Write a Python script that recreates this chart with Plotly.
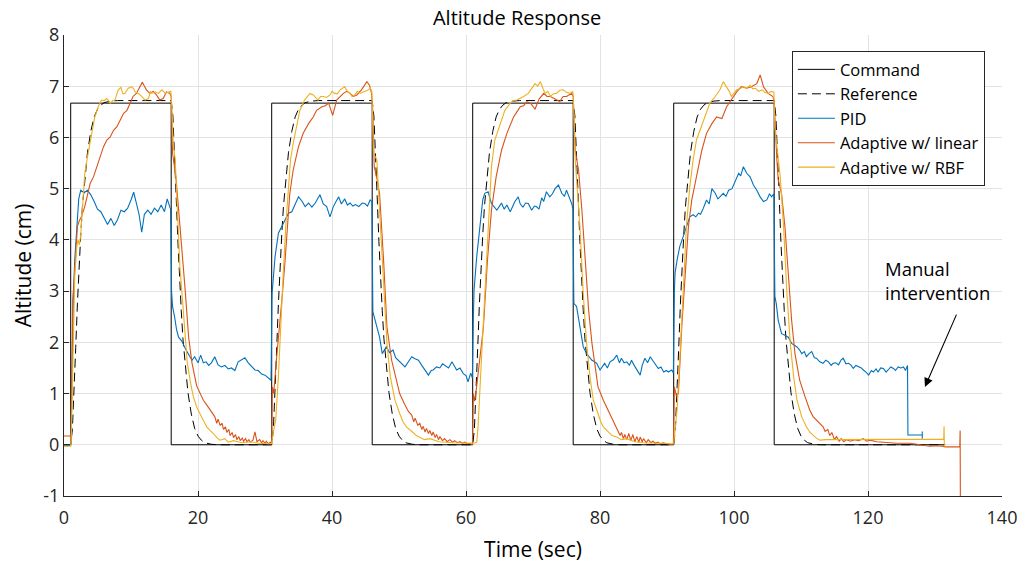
import plotly.graph_objects as go

# ---------------- data ----------------
cmd_t = [0, 1, 1, 16, 16, 31, 31, 46, 46, 61, 61, 76, 76, 91, 91, 106, 106, 131.5]
cmd_y = [0, 0, 6.67, 6.67, 0, 0, 6.67, 6.67, 0, 0, 6.67, 6.67, 0, 0, 6.67, 6.67, 0, 0]

# reference model: step-response shape read after each command edge
ref_dt = [0, 0.25, 0.5, 0.75, 1.0, 1.25, 1.5, 1.75, 2.0, 2.5, 3.0, 3.5, 4.0, 4.5, 5.0, 6.0, 7.0]
ref_rise = [0, 0.3, 1.0, 1.9, 2.75, 3.5, 4.1, 4.65, 5.05, 5.7, 6.12, 6.4, 6.55, 6.63, 6.68, 6.71, 6.72]
ref_fall = [6.72, 6.42, 5.72, 4.82, 3.97, 3.22, 2.62, 2.07, 1.67, 1.02, 0.6, 0.32, 0.17, 0.09, 0.04, 0.01, 0.0]
ref_on = [1, 31, 61, 91]
ref_off = [16, 46, 76, 106]
ref_end = 131.5

pid_t = [0, 0.5, 1.0, 1.2, 1.4, 1.6, 1.9, 2.2, 2.5, 3.0, 3.5, 4.0, 4.5, 5.0, 5.5, 6.0, 6.5, 7.0, 7.5, 8.0,
         8.5, 9.0, 9.5, 10.0, 10.4, 10.8, 11.2, 11.6, 12.0, 12.5, 13.0, 13.5, 14.0, 14.5, 15.0, 15.4, 15.9,
         16.05, 16.2, 16.5, 16.8, 17.1, 17.6, 18.1, 18.6, 19.1, 19.5, 20.0, 20.4, 20.8, 21.2, 21.6, 22.0,
         22.5, 23.0, 23.5, 24.0, 24.5, 25.0, 25.5, 26.0, 26.5, 27.0, 27.5, 28.0, 28.5, 29.0, 29.5, 30.0,
         30.5, 30.9, 31.05, 31.5, 32.0, 32.5, 33.0, 33.5, 34.0, 34.5, 35.0, 35.5, 36.0, 36.5, 37.0, 37.5,
         38.2, 38.7, 39.2, 39.7, 40.2, 40.6, 41.0, 41.4, 41.9, 42.3, 42.7, 43.1, 43.5, 44.0, 44.5, 44.9,
         45.3, 45.7, 45.95, 46.1, 46.3, 46.6, 47.1, 47.5, 48.1, 48.6, 49.1, 49.5, 49.9, 50.4, 50.9, 51.4,
         51.9, 52.4, 52.9, 53.4, 53.9, 54.4, 54.8, 55.1, 55.6, 56.1, 56.5, 56.9, 57.4, 57.9, 58.3, 58.6,
         59.1, 59.6, 60.0, 60.3, 60.7, 60.95, 61.1, 61.2, 61.6, 62.1, 62.5, 62.8, 63.3, 63.8, 64.2, 64.6,
         65.0, 65.3, 65.7, 66.1, 66.6, 67.0, 67.3, 67.8, 68.1, 68.5, 68.9, 69.3, 69.8, 70.2, 70.5, 70.9,
         71.3, 71.6, 72.0, 72.5, 72.9, 73.3, 73.8, 74.3, 74.7, 75.0, 75.4, 75.8, 75.95, 76.1, 76.5, 77.0,
         77.5, 78.0, 78.4, 78.8, 79.2, 79.5, 80.0, 80.4, 80.7, 81.1, 81.5, 82.0, 82.5, 82.9, 83.2, 83.6,
         84.0, 84.4, 84.7, 85.1, 85.5, 86.0, 86.3, 86.7, 87.1, 87.5, 88.0, 88.4, 88.7, 89.1, 89.5, 89.9,
         90.2, 90.7, 90.95, 91.1, 91.2, 91.5, 91.9, 92.4, 92.9, 93.4, 93.9, 94.3, 94.7, 95.0, 95.4, 95.9,
         96.3, 96.7, 97.2, 97.6, 97.9, 98.4, 98.8, 99.2, 99.7, 100.2, 100.7, 101.0, 101.4, 101.9, 102.4,
         102.9, 103.4, 103.9, 104.4, 104.9, 105.3, 105.6, 105.95, 106.1, 106.3, 106.6, 107.1, 107.6, 108.1,
         108.6, 109.0, 109.4, 109.8, 110.1, 110.5, 110.8, 111.2, 111.6, 112.0, 112.3, 112.8, 113.3, 113.7,
         114.1, 114.5, 114.8, 115.2, 115.6, 116.0, 116.3, 116.7, 117.1, 117.5, 117.8, 118.2, 118.6, 119.0,
         119.3, 119.7, 120.1, 120.5, 120.8, 121.2, 121.5, 121.9, 122.3, 122.7, 123.0, 123.4, 123.8, 124.1,
         124.5, 124.9, 125.3, 125.6, 125.9, 125.96, 128.1, 128.1, 128.1]
pid_y = [-0.02, -0.02, 0.0, 1.5, 2.9, 3.6, 4.3, 4.8, 4.97, 4.92, 4.97, 4.88, 4.75, 4.6, 4.55, 4.42, 4.3, 4.42, 4.28, 4.4,
         4.58, 4.55, 4.62, 4.78, 4.93, 4.72, 4.5, 4.15, 4.5, 4.58, 4.5, 4.62, 4.55, 4.68, 4.55, 4.8, 4.6,
         3.0, 2.7, 2.5, 2.25, 2.1, 2.02, 1.88, 1.76, 1.65, 1.72, 1.6, 1.75, 1.6, 1.62, 1.55, 1.6,
         1.72, 1.56, 1.52, 1.55, 1.48, 1.5, 1.45, 1.62, 1.66, 1.7, 1.6, 1.52, 1.46, 1.45, 1.38, 1.36,
         1.3, 1.26, 2.95, 3.67, 4.13, 4.26, 4.38, 4.52, 4.55, 4.71, 4.84, 4.76, 4.65, 4.72, 4.64, 4.72,
         4.88, 4.7, 4.65, 4.45, 4.65, 4.75, 4.84, 4.7, 4.8, 4.68, 4.72, 4.66, 4.69, 4.65, 4.72, 4.71,
         4.66, 4.78, 4.75, 2.6, 2.5, 2.3, 2.1, 1.78, 1.91, 1.8, 1.85, 1.7, 1.65, 1.58, 1.52, 1.62,
         1.72, 1.68, 1.65, 1.55, 1.45, 1.36, 1.45, 1.46, 1.52, 1.5, 1.58, 1.55, 1.5, 1.62, 1.52, 1.46,
         1.5, 1.39, 1.35, 1.23, 1.4, 1.3, 2.5, 3.02, 3.67, 4.26, 4.78, 4.91, 4.94, 4.71, 4.65, 4.58,
         4.66, 4.72, 4.6, 4.68, 4.55, 4.65, 4.75, 4.84, 4.7, 4.64, 4.72, 4.71, 4.58, 4.66, 4.65, 4.6,
         4.82, 4.75, 4.94, 4.84, 4.9, 5.0, 5.07, 4.91, 4.85, 4.97, 4.85, 4.7, 4.6, 2.76, 2.7, 2.3,
         1.91, 1.78, 1.72, 1.65, 1.62, 1.59, 1.46, 1.55, 1.59, 1.5, 1.62, 1.66, 1.75, 1.6, 1.69, 1.6,
         1.62, 1.55, 1.65, 1.55, 1.46, 1.36, 1.55, 1.69, 1.6, 1.72, 1.62, 1.55, 1.49, 1.52, 1.42, 1.45,
         1.42, 1.46, 1.4, 3.0, 3.35, 3.6, 3.87, 4.06, 4.26, 4.45, 4.49, 4.45, 4.52, 4.5, 4.61, 4.78,
         4.7, 5.0, 4.91, 4.8, 4.84, 4.91, 4.85, 4.97, 5.0, 5.17, 5.3, 5.25, 5.43, 5.3, 5.23,
         5.07, 4.97, 4.84, 4.75, 4.78, 4.9, 4.84, 4.9, 2.9, 2.76, 2.43, 2.17, 2.14, 2.1,
         1.98, 1.95, 1.91, 1.85, 1.78, 1.82, 1.72, 1.78, 1.82, 1.7, 1.69, 1.62, 1.59, 1.65,
         1.62, 1.55, 1.59, 1.6, 1.56, 1.66, 1.69, 1.58, 1.59, 1.55, 1.49, 1.55, 1.52, 1.5,
         1.46, 1.42, 1.36, 1.45, 1.42, 1.48, 1.42, 1.5, 1.49, 1.42, 1.46, 1.52, 1.49, 1.45,
         1.52, 1.5, 1.52, 1.45, 1.55, 0.19, 0.19, 0.26, 0.12]

lin_t = [0, 0.5, 0.95, 1.05, 1.2, 1.3, 1.64, 2.0, 2.3, 2.6, 3.1, 3.6, 3.9, 4.4, 4.9, 5.4, 5.9, 6.4, 6.9, 7.4,
         7.9, 8.4, 8.9, 9.4, 9.9, 10.3, 10.8, 11.3, 11.7, 12.0, 12.3, 12.8, 13.3, 13.8, 14.3, 14.8, 15.3,
         15.8, 16.0, 16.2, 16.5, 16.7, 17.1, 17.6, 18.1, 18.6, 19.1, 19.8, 20.3, 20.8, 21.3, 21.8, 22.2,
         22.5, 22.8, 23.0, 23.3, 23.6, 23.8, 24.1, 24.3, 24.6, 24.8, 25.1, 25.3, 25.6, 25.8, 26.1, 26.3,
         26.6, 26.8, 27.1, 27.3, 27.6, 27.8, 28.2, 28.5, 28.8, 29.2, 29.5, 29.7, 30.0, 30.2, 30.5, 30.8,
         31.0, 31.1, 31.3, 31.7, 32.2, 32.6, 33.0, 33.3, 33.7, 34.2, 35.0, 35.7, 36.5,
         37.2, 37.7, 38.5, 39.0, 39.5, 40.1, 40.7, 41.2, 41.7, 42.2, 42.7, 43.2, 43.7, 44.4, 45.2, 45.6,
         45.9, 46.1, 46.3, 46.7, 47.1, 47.7, 48.2, 48.9, 49.5, 50.1, 50.8, 51.4, 51.9,
         52.2, 52.4, 52.8, 53.1, 53.4, 53.6, 53.9, 54.1, 54.4, 54.6, 54.9, 55.1, 55.4, 55.6, 55.9, 56.1,
         56.5, 56.8, 57.2, 57.6, 58.0, 58.3, 58.7, 59.1, 59.5, 59.8, 60.2, 60.6, 60.95,
         61.1, 61.3, 61.6, 62.1,
         62.6, 63.2, 63.8, 64.5, 65.3, 66.1, 66.6, 67.1, 67.6, 68.1, 68.6, 69.1, 69.7, 70.3, 70.9, 71.6,
         72.1, 72.6, 73.3, 74.0, 74.5, 75.0, 75.8, 76.0, 76.3, 76.8, 77.3, 77.8, 78.3, 78.8, 79.3, 79.7,
         80.5, 81.2, 81.9, 82.3, 82.7,
         83.0, 83.2, 83.5, 83.7, 84.0, 84.3, 84.6, 84.9, 85.2, 85.5, 85.8, 86.0, 86.3, 86.5, 86.9, 87.2,
         87.6, 87.9, 88.3, 88.6, 89.0, 89.4, 90.0, 90.7, 90.95,
         91.1, 91.4, 91.7, 92.2, 92.7, 93.2, 93.7, 94.4, 95.2, 95.9, 96.7, 97.4, 98.2,
         98.9, 99.6, 100.4, 101.1, 101.9, 102.6, 103.4, 103.9, 104.4, 105.1, 105.8, 106.0, 106.2, 106.4,
         106.6, 107.1, 107.6, 108.1, 108.6, 109.1, 109.8, 110.6, 111.3, 111.8, 112.3, 112.8, 113.3,
         113.6, 114.0, 114.3, 114.6, 115.0, 115.3, 115.7, 116.0, 116.4, 116.8, 117.4, 118.0, 118.6,
         119.3, 119.8, 120.3, 121.3, 122.8, 124.3, 126.3, 127.8, 129.2, 130.5,
         131.7, 133.7, 133.75, 133.8]
lin_y = [0.17, 0.17, 0.17, 0.05, 1.5, 2.82, 3.47, 4.26, 4.38, 4.45, 4.65, 4.94, 5.1, 5.23, 5.43, 5.62, 5.82, 5.95, 6.01, 6.14,
         6.21, 6.34, 6.47, 6.53, 6.67, 6.8, 6.86, 6.99, 7.08, 7.0, 6.93, 6.86, 6.9, 6.83, 6.73, 6.76, 6.89,
         6.86, 6.8, 5.69, 5.36, 5.23, 4.6, 3.87, 3.0, 2.1, 1.6, 1.15, 1.0, 0.87, 0.78, 0.68, 0.6,
         0.55, 0.42, 0.5, 0.38, 0.42, 0.3, 0.35, 0.24, 0.3, 0.18, 0.24, 0.14, 0.2, 0.1, 0.16, 0.08,
         0.13, 0.07, 0.12, 0.06, 0.1, 0.05, 0.09, 0.25, 0.06, 0.1, 0.04, 0.08, 0.03, 0.07, 0.02, 0.05,
         0.02, 1.13, 1.0, 1.65, 2.3, 2.95, 3.6, 4.26, 4.9, 5.36, 5.82, 6.08, 6.27,
         6.4, 6.53, 6.6, 6.62, 6.67, 6.43, 6.73, 6.8, 6.86, 6.9, 6.86, 6.8, 6.83, 6.93, 7.09, 7.02,
         6.86, 6.5, 5.43, 5.2, 4.9, 3.6, 2.3, 1.65, 1.3, 1.0, 0.8, 0.65, 0.58,
         0.45, 0.52, 0.38, 0.42, 0.3, 0.36, 0.25, 0.32, 0.22, 0.28, 0.18, 0.25, 0.14, 0.2, 0.1, 0.16,
         0.08, 0.12, 0.06, 0.1, 0.05, 0.08, 0.04, 0.06, 0.03, 0.05, 0.02, 0.03, 0.0,
         1.0, 0.85, 1.15, 1.7,
         2.3, 3.6, 4.58, 5.23, 5.75, 6.08, 6.25, 6.4, 6.5, 6.6, 6.62, 6.7, 6.66, 6.55, 6.75, 6.86,
         6.8, 6.8, 6.75, 6.7, 6.8, 6.8, 6.86, 6.8, 5.75, 5.36, 4.58, 3.6, 2.63, 1.98, 1.52, 1.13,
         0.87, 0.68, 0.48, 0.38, 0.28,
         0.18, 0.24, 0.12, 0.2, 0.1, 0.22, 0.08, 0.2, 0.06, 0.16, 0.05, 0.15, 0.06, 0.12, 0.04, 0.1,
         0.04, 0.07, 0.03, 0.05, 0.02, 0.04, 0.02, 0.0, 0.02,
         1.13, 0.95, 1.0, 2.3, 3.28, 4.26, 4.78, 5.23, 5.75, 6.08, 6.27, 6.4, 6.37,
         6.6, 6.73, 6.89, 6.99, 6.96, 6.99, 7.05, 7.22, 6.99, 6.86, 6.8, 6.7, 6.0, 5.56,
         5.17, 4.9, 4.26, 3.28, 2.43, 1.78, 1.26, 0.94, 0.68, 0.55, 0.48, 0.4, 0.35,
         0.26, 0.3, 0.18, 0.24, 0.1, 0.16, 0.07, 0.12, 0.06, 0.1, 0.07, 0.1, 0.08,
         0.12, 0.07, 0.09, 0.06, 0.04, 0.03, 0.03, 0.0, -0.03, -0.02,
         -0.04, -0.04, 0.28, -1.6]

rbf_t = [0, 0.5, 1.0, 1.1, 1.4, 1.6, 1.9, 2.1, 2.3, 2.5, 2.9, 3.1, 3.6, 4.1, 4.6, 5.1, 5.6, 6.0, 6.4, 6.9,
         7.3, 7.6, 8.1, 8.5, 8.8, 9.1, 9.6, 10.1, 10.4, 10.6, 11.1, 11.6, 12.1, 12.6, 12.9, 13.1, 13.6,
         14.1, 14.6, 15.1, 15.6, 15.95, 16.1, 16.3, 16.6, 16.8, 17.1, 17.3, 17.8, 18.1, 18.4, 18.9, 19.3,
         19.8, 20.2, 20.5, 20.9, 21.3, 21.8, 22.3, 22.8, 23.3, 24.0, 24.5, 25.3, 26.5, 27.8, 29.0, 30.5,
         31.0, 31.2, 31.6, 32.0, 32.3, 32.7, 33.1, 33.5, 33.8, 34.2, 34.7, 35.2, 35.9, 36.3, 36.7, 37.2,
         37.9, 38.3, 38.7, 39.2, 39.7, 40.0, 40.4, 40.8, 41.2, 41.9, 42.3, 42.7, 43.0, 43.4, 43.8, 44.2,
         44.9, 45.3, 45.7, 45.95, 46.2, 46.7, 47.1, 47.7, 48.2, 48.7, 49.4, 50.1, 50.6, 51.1, 51.6, 52.1,
         52.6, 53.1, 53.8, 54.6, 56.0, 58.0, 60.0, 61.0, 61.6, 61.8, 62.3, 62.8, 63.3, 63.8, 64.3, 65.0,
         65.8, 66.6, 67.1, 67.6, 68.1, 68.6, 69.3, 69.8, 70.3, 70.7, 71.1, 71.5, 71.8, 72.2, 72.6, 73.0,
         73.5, 74.0, 74.5, 75.0, 75.5, 75.95, 76.1, 76.3, 77.0, 77.5, 78.0, 78.5, 79.0, 79.7, 80.1, 80.5,
         81.2, 81.8, 82.5, 83.2, 84.0, 85.2, 86.5, 88.5, 90.7, 91.0, 91.2, 91.5, 91.9, 92.4, 92.9, 93.4,
         93.9, 94.4, 94.9, 95.7, 96.4, 97.2, 97.9, 98.4, 98.9, 99.3, 99.6, 100.0, 100.4, 100.9, 101.4,
         101.9, 102.4, 102.8, 103.2, 103.7, 104.2, 104.6, 105.1, 105.5, 105.95, 106.1, 106.6, 106.9, 107.4,
         107.9, 108.4, 108.9, 109.4, 110.1, 110.8, 111.3, 111.8, 112.3, 112.8, 113.8, 115.3, 117.8, 120.3,
         123.0, 125.3, 128.0, 131.3, 131.35, 131.4]
rbf_y = [-0.03, -0.03, -0.03, 0.2, 2.3, 3.28, 3.87, 4.0, 3.9, 4.1, 4.9, 5.3, 5.69, 6.08, 6.4, 6.6, 6.73, 6.72, 6.76, 6.67,
         6.72, 6.73, 6.93, 6.98, 6.85, 6.86, 6.96, 6.99, 6.95, 6.89, 6.86, 6.8, 6.73, 6.76, 6.9, 6.86, 6.89,
         6.86, 6.93, 6.86, 6.89, 6.9, 6.6, 5.88, 5.56, 5.04, 4.13, 3.47, 2.63, 2.1, 1.6, 1.2, 0.94,
         0.74, 0.62, 0.55, 0.45, 0.35, 0.28, 0.22, 0.14, 0.09, 0.12, 0.05, 0.08, 0.04, 0.06, 0.03, 0.02,
         0.02, 0.22, 0.48, 1.33, 2.3, 3.28, 4.26, 5.04, 5.56, 5.88, 6.21, 6.53, 6.73, 6.8, 6.86, 6.83,
         6.73, 6.8, 6.8, 6.78, 6.83, 6.9, 6.86, 6.85, 6.93, 6.99, 6.9, 6.86, 6.8, 6.83, 6.9, 6.86,
         6.89, 6.92, 6.96, 6.9, 5.69, 5.56, 4.58, 3.28, 1.98, 1.33, 0.87, 0.61, 0.45, 0.35, 0.3, 0.24,
         0.18, 0.15, 0.1, 0.12, 0.06, 0.04, 0.03, 0.03, 0.05, 0.35, 1.65, 2.95, 4.26, 5.43, 5.95, 6.21,
         6.53, 6.67, 6.72, 6.73, 6.76, 6.8, 6.86, 6.95, 7.05, 7.0, 7.09, 6.95, 6.86, 6.9, 6.8, 6.85,
         6.86, 6.92, 6.93, 6.88, 6.86, 6.9, 6.5, 5.56, 4.26, 2.95, 1.98, 1.33, 0.87, 0.61, 0.45, 0.35,
         0.25, 0.18, 0.15, 0.1, 0.12, 0.06, 0.04, 0.03, 0.01, 0.02, 0.28, 0.68, 1.65, 2.95, 4.26, 5.04,
         5.56, 5.95, 6.14, 6.4, 6.67, 6.8, 6.93, 7.09, 6.99, 6.9, 6.8, 6.86, 6.93, 6.95, 6.99,
         6.96, 7.02, 6.95, 6.96, 6.9, 6.93, 6.88, 6.86, 6.9, 6.89, 6.2, 5.56, 5.23, 4.26,
         2.95, 1.98, 1.33, 0.87, 0.55, 0.35, 0.25, 0.19, 0.13, 0.09, 0.1, 0.1, 0.1, 0.11,
         0.11, 0.1, 0.11, 0.11, 0.36, -0.06]

x_ticks = [0, 20, 40, 60, 80, 100, 120, 140]
y_ticks = [-1, 0, 1, 2, 3, 4, 5, 6, 7, 8]
y_tick_text = ["-1", "0", "1", "2", "3", "4", "5", "6", "7", "8"]

# build reference trace from the read-off edge shapes
ref_t, ref_y = [0.0], [0.0]
for on, off in zip(ref_on, ref_off):
    ref_t += [on + d for d in ref_dt]
    ref_y += list(ref_rise)
    ref_t += [off + d for d in ref_dt]
    ref_y += list(ref_fall)
ref_t.append(ref_end)
ref_y.append(0.0)

# ---------------- figure ----------------
FONT = "Open Sans"
AX = "#262626"
fig = go.Figure()
fig.add_trace(go.Scatter(x=cmd_t, y=cmd_y, mode="lines", name="Command",
                         line=dict(color="#000000", width=1)))
fig.add_trace(go.Scatter(x=ref_t, y=ref_y, mode="lines", name="Reference",
                         line=dict(color="#000000", width=1, dash="9px,5px")))
fig.add_trace(go.Scatter(x=pid_t, y=pid_y, mode="lines", name="PID",
                         line=dict(color="#0072BD", width=1.1)))
fig.add_trace(go.Scatter(x=lin_t, y=lin_y, mode="lines", name="Adaptive w/ linear",
                         line=dict(color="#D95319", width=1.1)))
fig.add_trace(go.Scatter(x=rbf_t, y=rbf_y, mode="lines", name="Adaptive w/ RBF",
                         line=dict(color="#EDB120", width=1.1)))

fig.add_annotation(x=128.5, y=1.13, ax=133.3, ay=2.57, xref="x", yref="y", axref="x", ayref="y",
                   text="", showarrow=True, arrowhead=2, arrowsize=1.6, arrowwidth=1.1, arrowcolor="#000000")
fig.add_annotation(x=122.2, y=3.2, xref="x", yref="y", text="Manual<br>intervention",
                   showarrow=False, xanchor="left", yanchor="middle", align="left",
                   font=dict(family=FONT, size=18.5, color="#000000"))

fig.update_layout(
    width=1018, height=564,
    margin=dict(l=64, r=16, t=35, b=68, autoexpand=False),
    paper_bgcolor="white", plot_bgcolor="white",
    font=dict(family=FONT, size=18, color=AX),
    title=dict(text="Altitude Response", x=0.508, xanchor="center", y=0.968, yanchor="middle",
               font=dict(family=FONT, size=20, color="#000000")),
    showlegend=True,
    legend=dict(x=0.776, y=0.965, xanchor="left", yanchor="top", bgcolor="white",
                bordercolor=AX, borderwidth=1, font=dict(family=FONT, size=16.5, color="#000000"),
                tracegroupgap=0, itemwidth=37),
)
fig.update_xaxes(range=[0, 140], tickvals=x_ticks, ticks="inside", ticklen=5, tickcolor=AX,
                 ticklabelstandoff=5,
                 showline=True, linecolor=AX, linewidth=1, mirror=False, automargin=False,
                 showgrid=True, gridcolor="#e3e3e3", zeroline=False,
                 title=dict(text="Time (sec)", font=dict(family=FONT, size=21, color="#000000"), standoff=14))
fig.update_yaxes(range=[-1, 8], tickvals=y_ticks, ticktext=y_tick_text, ticks="inside", ticklen=5, tickcolor=AX,
                 showline=True, linecolor=AX, linewidth=1, mirror=False, automargin=False,
                 showgrid=True, gridcolor="#e3e3e3", zeroline=False,
                 title=dict(text="Altitude (cm)", font=dict(family=FONT, size=21, color="#000000"), standoff=5))

fig.write_html("out.html")
